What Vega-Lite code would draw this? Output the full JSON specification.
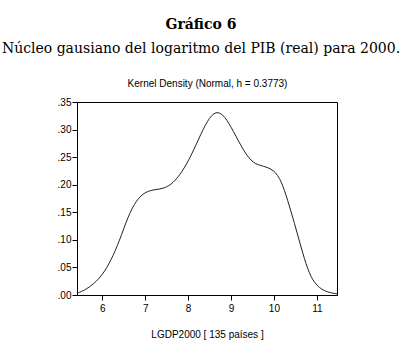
{
  "$schema": "https://vega.github.io/schema/vega-lite/v6.json",
  "autosize": "none",
  "width": 260,
  "height": 193,
  "padding": {"left": 77, "top": 102, "right": 63, "bottom": 56},
  "background": "white",
  "title": {
    "text": "Gráfico 6",
    "subtitle": "Núcleo gausiano del logaritmo del PIB (real) para 2000.",
    "font": "DejaVu Serif",
    "fontSize": 14,
    "fontWeight": "bold",
    "color": "black",
    "subtitleFont": "DejaVu Serif",
    "subtitleFontSize": 14,
    "subtitleColor": "black",
    "subtitlePadding": 10,
    "anchor": "middle",
    "dx": -6,
    "offset": 22
  },
  "config": {
    "view": {"stroke": "black", "strokeWidth": 1},
    "axis": {
      "labelFont": "Liberation Sans",
      "labelFontSize": 10,
      "labelColor": "black",
      "titleFont": "Liberation Sans",
      "titleFontSize": 10,
      "titleFontWeight": "normal",
      "titleColor": "black",
      "tickColor": "black",
      "domainColor": "black",
      "grid": false,
      "tickSize": 5,
      "labelOverlap": false
    }
  },
  "data": {
    "values": [
      {"x": 5.41, "y": 0.003},
      {"x": 5.6, "y": 0.009},
      {"x": 5.8, "y": 0.02},
      {"x": 6.0, "y": 0.036},
      {"x": 6.2, "y": 0.062},
      {"x": 6.4, "y": 0.098},
      {"x": 6.6, "y": 0.143},
      {"x": 6.8, "y": 0.173},
      {"x": 7.0, "y": 0.187},
      {"x": 7.2, "y": 0.191},
      {"x": 7.45, "y": 0.193},
      {"x": 7.65, "y": 0.203},
      {"x": 7.85, "y": 0.222},
      {"x": 8.07, "y": 0.252},
      {"x": 8.3, "y": 0.293},
      {"x": 8.5, "y": 0.323},
      {"x": 8.67, "y": 0.334},
      {"x": 8.85, "y": 0.325},
      {"x": 9.05, "y": 0.298},
      {"x": 9.3, "y": 0.26},
      {"x": 9.52, "y": 0.238},
      {"x": 9.75, "y": 0.234},
      {"x": 10.0, "y": 0.227},
      {"x": 10.17, "y": 0.208},
      {"x": 10.32, "y": 0.172},
      {"x": 10.48, "y": 0.13},
      {"x": 10.63, "y": 0.087},
      {"x": 10.79, "y": 0.045},
      {"x": 10.94, "y": 0.021},
      {"x": 11.17, "y": 0.006},
      {"x": 11.47, "y": 0.002}
    ]
  },
  "layer": [
    {
      "mark": {"type": "line", "interpolate": "basis", "color": "#222222", "strokeWidth": 1},
      "encoding": {
        "x": {
          "field": "x", "type": "quantitative",
          "scale": {"domain": [5.41, 11.47], "nice": false, "zero": false},
          "axis": {"orient": "bottom", "title": "LGDP2000 [ 135 países ]", "values": [6, 7, 8, 9, 10, 11], "format": "d", "labelPadding": 3, "titlePadding": 16, "domain": true}
        },
        "y": {
          "field": "y", "type": "quantitative",
          "scale": {"domain": [0, 0.35], "nice": false},
          "axis": {"title": null, "values": [0, 0.05, 0.1, 0.15, 0.2, 0.25, 0.3, 0.35], "labelExpr": "substring(format(datum.value, '.2f'), 1)", "labelPadding": 1}
        }
      }
    },
    {
      "mark": {"type": "rule", "opacity": 0},
      "encoding": {
        "x": {
          "field": "x", "type": "quantitative",
          "axis": {"orient": "top", "title": "Kernel Density (Normal, h =  0.3773)", "labels": false, "ticks": false, "domain": false, "titlePadding": 14}
        }
      }
    }
  ]
}
